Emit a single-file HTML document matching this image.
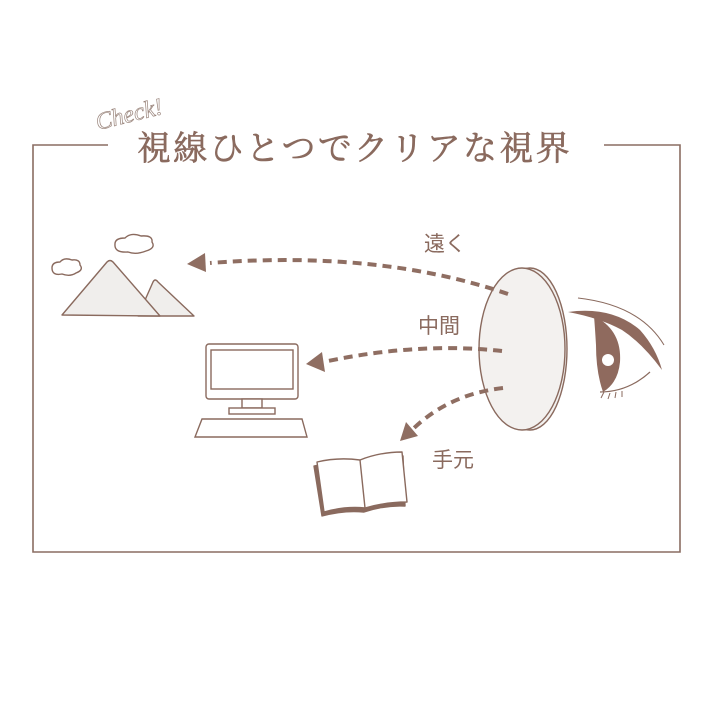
<!DOCTYPE html>
<html><head><meta charset="utf-8"><style>
html,body{margin:0;padding:0;background:#fff;}
svg{display:block;}
</style></head><body>
<svg width="712" height="712" viewBox="0 0 712 712" xmlns="http://www.w3.org/2000/svg">
<g fill="none" stroke="#8a6d62" stroke-width="1.6">
<polyline points="108,145 33,145 33,552 680,552 680,145 604,145"/>
</g>
<text x="98" y="130" font-family="Liberation Serif, serif" font-style="italic" font-size="24" fill="none" stroke="#9a857c" stroke-width="0.7" transform="rotate(-14 98 130)">Check!</text>
<text x="137" y="160" font-family="'Liberation Serif','Noto Serif CJK SC',serif" font-size="34" fill="#8a6a5e" stroke="#8a6a5e" stroke-width="0.6" letter-spacing="2.3">視線ひとつでクリアな視界</text>

<g fill="#f0eeec" stroke="#8a6a5e" stroke-width="1.4" stroke-linejoin="round">
<path d="M138,316 L153,282 Q155,278 158,282 L194,316 Z"/>
<path d="M62,315 L107,262 Q110,259 113,262 L160,316 Z"/>
<path d="M52,268 q0,-6 8,-6 q4,-5 12,-2 q8,-1 8,5 q4,5 -4,8 q-6,4 -14,1 q-10,2 -10,-6z" fill="#fff"/>
<path d="M115,244 q0,-6 10,-6 q6,-6 16,-2 q12,-1 11,6 q4,6 -6,9 q-10,4 -18,1 q-14,1 -13,-8z" fill="#fff"/>
</g>
<g fill="#fff" stroke="#8a6a5e" stroke-width="1.4">
<rect x="206" y="344" width="92" height="55" rx="3"/>
<rect x="211" y="350" width="82" height="39"/>
<rect x="242" y="399" width="20" height="9"/>
<rect x="229" y="408" width="46" height="6"/>
<path d="M202,419 L302,419 L307,437 L195,437 Z"/>
</g>
<g stroke-linejoin="round">
<path d="M314,466 Q336,461 357,464 Q380,456 403,456 L405,506 Q385,505 364,512 Q344,510 322,516 Z" fill="#8a6a5e" stroke="#8a6a5e" stroke-width="1.4"/>
<path d="M317,462 Q338,457 360,460 Q380,452 402,452 L407,502 Q386,502 365,508 Q345,506 324,512 Z" fill="#fff" stroke="#8a6a5e" stroke-width="1.4"/>
<path d="M360,460 L365,508" stroke="#8a6a5e" stroke-width="1.4"/>
</g>
<g stroke="#8a6a5e" stroke-width="1.4" fill="#f3f1ef">
<ellipse cx="530" cy="349" rx="37" ry="81"/>
<ellipse cx="522" cy="349" rx="43" ry="81"/>
</g>
<g fill="none" stroke="#8f6e62" stroke-width="4" stroke-dasharray="9,6">
<path d="M508,294 Q380,250 210,263"/>
<path d="M502,351 Q420,342 328,361"/>
<path d="M503,388 Q450,394 414,428"/>
</g>
<g fill="#8f6e62">
<polygon points="187,264 205,253 206,272"/>
<polygon points="306,364 322,352 325,372"/>
<polygon points="400,441 406,422 418,436"/>
</g>
<text x="424" y="251" font-family="'Liberation Sans','Noto Sans CJK JP',sans-serif" font-size="21" fill="#8a6a5e">遠く</text>
<text x="418" y="333" font-family="'Liberation Sans','Noto Sans CJK JP',sans-serif" font-size="21" fill="#8a6a5e">中間</text>
<text x="432" y="467" font-family="'Liberation Sans','Noto Sans CJK JP',sans-serif" font-size="21" fill="#8a6a5e">手元</text>
<g fill="#8f6a5e">
<path d="M568,312 Q612,306 640,330 Q656,348 662,370 Q642,343 622,330 Q600,318 568,312Z"/>
<path d="M594,316 Q622,330 620,362 Q618,383 603,392 Q596,372 596,345 Q595,328 594,316Z"/>
</g>
<circle cx="608" cy="360" r="6" fill="#fff"/>
<path d="M600,392 Q628,392 650,372" fill="none" stroke="#8a6a5e" stroke-width="1.2"/>
<path d="M604,392 l-3,6 M610,393 l-2,6 M616,392 l-1,6 M622,391 l0,6" stroke="#8a6a5e" stroke-width="1"/>
<path d="M578,298 Q640,305 664,345" fill="none" stroke="#8a6a5e" stroke-width="1"/>
</svg>
</body></html>
